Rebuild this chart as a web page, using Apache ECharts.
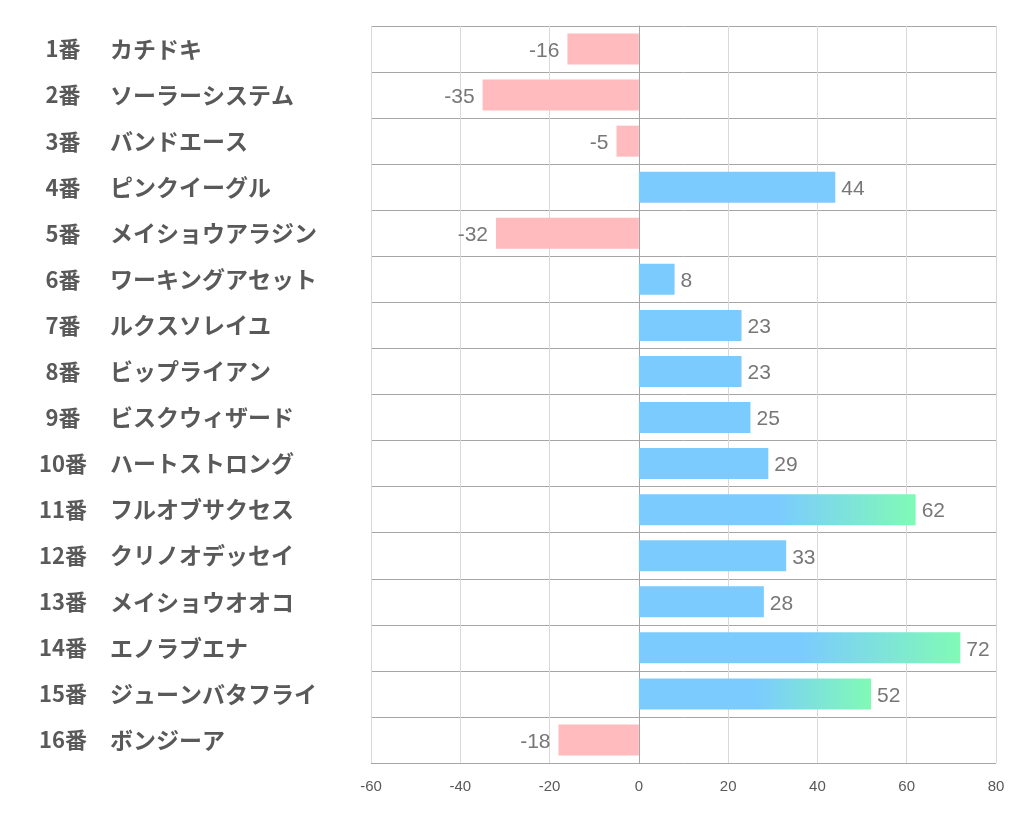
<!DOCTYPE html>
<html>
<head>
<meta charset="utf-8">
<script src="https://cdn.jsdelivr.net/npm/echarts@6/dist/echarts.min.js"></script>
<style>
html,body{margin:0;padding:0;background:#fff;}
#chart{width:1022px;height:834px;}
</style>
</head>
<body>
<div id="chart"></div>
<script>
const numbers = ['1番','2番','3番','4番','5番','6番','7番','8番','9番','10番','11番','12番','13番','14番','15番','16番'];
const names = ['カチドキ','ソーラーシステム','バンドエース','ピンクイーグル','メイショウアラジン','ワーキングアセット','ルクスソレイユ','ビップライアン','ビスクウィザード','ハートストロング','フルオブサクセス','クリノオデッセイ','メイショウオオコ','エノラブエナ','ジューンバタフライ','ボンジーア'];
const values = [-16,-35,-5,44,-32,8,23,23,25,29,62,33,28,72,52,-18];
const highlighted = ['11番','14番','15番'];
const xTicks = [-60,-40,-20,0,20,40,60,80];

const PINK = '#FFBBBD';
const BLUE = '#7BCBFF';
const GREEN = '#80FAB6';

const categories = numbers.map((n, i) => n + '|' + names[i]);

const data = values.map((v, i) => {
  let color;
  if (v < 0) color = PINK;
  else if (highlighted.includes(numbers[i])) {
    color = new echarts.graphic.LinearGradient(0, 0, 1, 0, [
      {offset: 0, color: BLUE},
      {offset: 0.5, color: BLUE},
      {offset: 1, color: GREEN}
    ]);
  } else color = BLUE;
  return {
    value: v,
    itemStyle: {color: color},
    label: {position: v < 0 ? 'left' : 'right', distance: v < 0 ? 8 : 6}
  };
});

const chart = echarts.init(document.getElementById('chart'));
chart.setOption({
  animation: false,
  grid: {left: 371, right: 26, top: 26, bottom: 71, containLabel: false},
  xAxis: {
    type: 'value',
    min: xTicks[0],
    max: xTicks[xTicks.length - 1],
    interval: 20,
    axisLine: {show: false},
    axisTick: {show: false},
    axisLabel: {color: '#595959', fontSize: 15, margin: 16, fontFamily: 'Liberation Sans, sans-serif'},
    splitLine: {show: true, lineStyle: {color: '#D9D9D9', width: 1}}
  },
  yAxis: {
    type: 'category',
    inverse: true,
    data: categories,
    axisLine: {show: true, lineStyle: {color: '#A6A6A6'}},
    axisTick: {show: false},
    splitLine: {show: true, lineStyle: {color: '#A6A6A6', width: 1}},
    axisLabel: {
      align: 'left',
      margin: 341,
      formatter: function (val) {
        const p = val.split('|');
        return '{n|' + p[0] + '}{s|' + p[1] + '}';
      },
      rich: {
        n: {width: 66, align: 'right', fontSize: 22, fontWeight: 'bold', color: '#595959', fontFamily: 'Noto Sans CJK JP'},
        s: {padding: [0, 0, 0, 14], fontSize: 23, fontWeight: 'bold', color: '#595959', fontFamily: 'Noto Sans CJK JP'}
      }
    }
  },
  series: [{
    type: 'bar',
    data: data,
    barWidth: 31,
    label: {
      show: true,
      color: '#777777',
      fontSize: 21,
      offset: [0, 2],
      fontFamily: 'Liberation Sans, sans-serif'
    }
  }]
});
</script>
</body>
</html>
